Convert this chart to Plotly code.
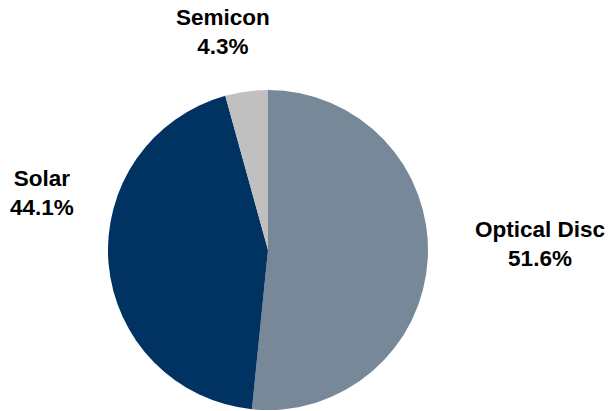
import plotly.graph_objects as go

labels = ["Optical Disc", "Solar", "Semicon"]
values = [51.6, 44.1, 4.3]
colors = ["#778899", "#003262", "#C0C0C0"]

W, H = 612, 411
# label block centres in pixels
label_px = {"Optical Disc": (540, 244), "Solar": (42, 193), "Semicon": (223, 32)}

fig = go.Figure(go.Pie(
    labels=labels, values=values, sort=False, direction="clockwise", rotation=0,
    marker=dict(colors=colors, line=dict(width=0)),
    textinfo="none", hoverinfo="label+percent",
    domain=dict(x=[108 / W, 428 / W], y=[1 - 410 / H, 1 - 90 / H]),
))

for lab, val in zip(labels, values):
    px, py = label_px[lab]
    fig.add_annotation(
        x=px / W, y=1 - py / H, xref="paper", yref="paper",
        xanchor="center", yanchor="middle", showarrow=False,
        text=f"<b>{lab}<br>{val:.1f}%</b>",
        font=dict(family="Liberation Sans, Arial, sans-serif", size=22.5, color="#000000"),
    )

fig.update_layout(
    width=W, height=H, margin=dict(l=0, r=0, t=0, b=0),
    showlegend=False, paper_bgcolor="white", plot_bgcolor="white",
)
fig.write_html("out.html", config={"displayModeBar": False},
               post_script="document.body.style.margin='0';")
